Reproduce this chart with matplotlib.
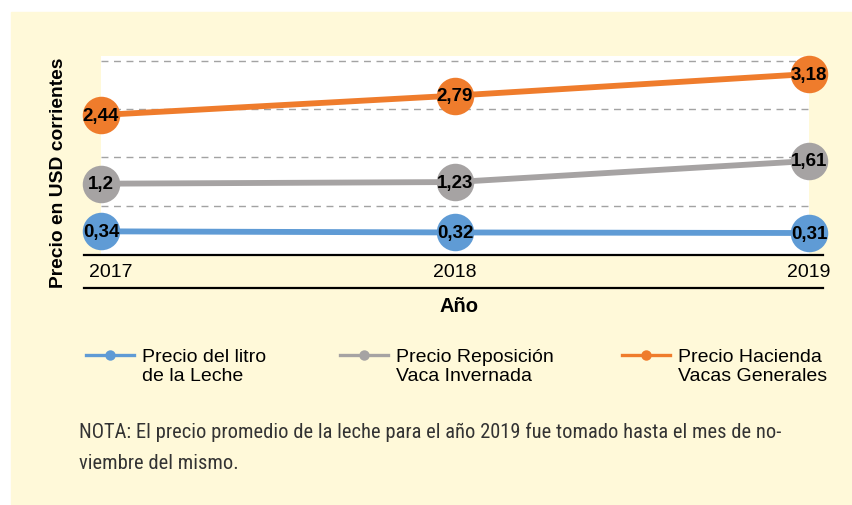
import os
import matplotlib
matplotlib.use("Agg")
import matplotlib.pyplot as plt
from matplotlib.lines import Line2D
from matplotlib.patches import Rectangle
from matplotlib import font_manager
from matplotlib.font_manager import FontProperties

# datos
years = [2017, 2018, 2019]
leche = [0.34, 0.32, 0.31]
reposicion = [1.2, 1.23, 1.61]
hacienda = [2.44, 2.79, 3.18]
series_labels = ["Precio del litro\nde la Leche",
                 "Precio Reposición\nVaca Invernada",
                 "Precio Hacienda\nVacas Generales"]
y_title = "Precio en USD corrientes"
x_title = "Año"
nota = ["NOTA: El precio promedio de la leche para el año 2019 fue tomado hasta el mes de no-",
        "viembre del mismo."]

W, H = 852, 506
YELLOW = "#FFF9D9"
BLUE = "#5F9BD5"
GRAY = "#A6A3A3"
ORANGE = "#EF7C2C"

plt.rcParams["font.family"] = ["Liberation Sans", "DejaVu Sans"]


def fx(x):
    return x / W


def fy(y):
    return 1 - y / H


def fmt(v):
    return str(v).replace(".", ",")


def narrow_font():
    """Busca una fuente condensada instalada para la nota; si no hay, Roboto."""
    prio = ["roboto", "noto sans", "liberation sans", "dejavu sans", "lato", "inter", "open sans"]
    found = []
    for f in font_manager.fontManager.ttflist:
        nm = f.name.lower()
        fn = os.path.basename(f.fname).lower()
        st = str(f.stretch).lower()
        narrow = ("condensed" in nm or "narrow" in nm or "condensed" in st
                  or "condensed" in fn or "narrow" in fn or "cond" in fn)
        if not narrow or f.style != "normal":
            continue
        if "semi" in fn or "extra" in fn or "ultra" in fn:
            continue
        try:
            w = int(f.weight)
        except (TypeError, ValueError):
            w = 400
        if w < 300 or w > 400:
            continue
        rank = next((i for i, p in enumerate(prio) if nm.startswith(p)), len(prio))
        found.append((rank, abs(w - 400), f.fname))
    if found:
        found.sort()
        return FontProperties(fname=found[0][2])
    return FontProperties(family=["Roboto", "DejaVu Sans"])


fig = plt.figure(figsize=(W / 100, H / 100), dpi=100, facecolor="white")
fig.patches.append(Rectangle((fx(11), fy(505)), fx(W - 11), (505 - 13) / H,
                             transform=fig.transFigure, color=YELLOW, zorder=-5))

ax = fig.add_axes([fx(101), fy(256), fx(708), 199 / H])
ax.set_facecolor("white")
ax.set_xlim(2017, 2019)
ax.set_ylim(-0.087, 3.505)
for s in ax.spines.values():
    s.set_visible(False)
ax.set_xticks([])
ax.set_yticks([])

for g in [0.8, 1.68, 2.55, 3.42]:
    ax.axhline(g, color="#A3A3A3", lw=1, ls=(0, (5, 4)), zorder=1)

for vals, col in [(leche, BLUE), (reposicion, GRAY), (hacienda, ORANGE)]:
    ax.plot(years, vals, color=col, lw=4.2, marker="o", ms=27, mew=0,
            clip_on=False, zorder=3, solid_capstyle="butt")
    for x, v in zip(years, vals):
        ax.text(x, v, fmt(v), ha="center", va="center", fontsize=13.5,
                fontweight="bold", color="black", zorder=4, clip_on=False)

# lineas del eje
for yy in (256, 289):
    fig.add_artist(Line2D([fx(84), fx(823)], [fy(yy), fy(yy)], color="black",
                          lw=1.6, transform=fig.transFigure))

for x, dx in zip(years, [10, 0, 0]):
    ax.annotate(str(x), (x, 0), xycoords=("data", "axes fraction"),
                xytext=(dx, -17), textcoords="offset pixels",
                ha="center", va="center", fontsize=14, annotation_clip=False)

fig.text(fx(459), fy(307), x_title, ha="center", va="center",
         fontsize=14.5, fontweight="bold")
fig.text(fx(59), fy(173), y_title, ha="center", va="center", rotation=90,
         fontsize=13.9, fontweight="bold")

# leyenda
for x0, lab, col in zip([86, 340, 622], series_labels, [BLUE, GRAY, ORANGE]):
    fig.add_artist(Line2D([fx(x0), fx(x0 + 48)], [fy(356), fy(356)], color=col,
                          lw=2.4, transform=fig.transFigure))
    fig.add_artist(Line2D([fx(x0 + 24)], [fy(356)], color=col, marker="o",
                          ms=7.5, mew=0, transform=fig.transFigure))
    for i, line in enumerate(lab.split("\n")):
        fig.text(fx(x0 + 56), fy(362 + 19.5 * i), line, ha="left",
                 va="baseline", fontsize=14, color="black")

# nota, ajustada al ancho del original (79 a 783 px)
fp = narrow_font()
nota_txt = []
for i, line in enumerate(nota):
    nota_txt.append(fig.text(fx(79), fy(438 + 31 * i), line, ha="left", va="baseline",
                             fontproperties=fp, fontsize=14, color="#333333"))
fig.canvas.draw()
w0 = nota_txt[0].get_window_extent(fig.canvas.get_renderer()).width
fs = min(14 * 704 / w0, 16.5)
for t in nota_txt:
    t.set_fontsize(fs)

fig.savefig("out.png", dpi=100, facecolor="white")
